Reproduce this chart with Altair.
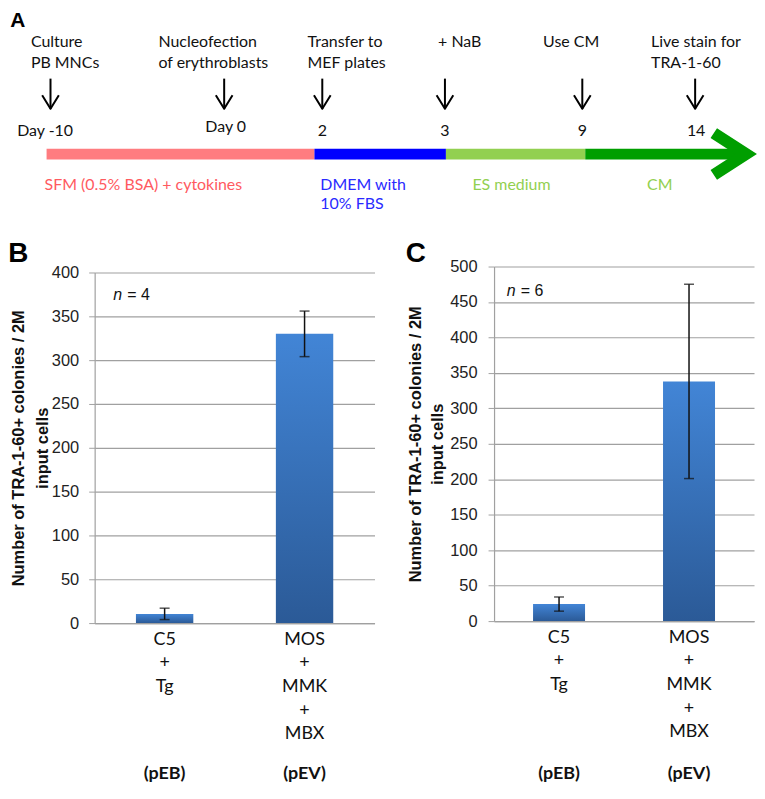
import altair as alt
import pandas as pd

# ---------------- Panel A: protocol timeline ----------------
step_labels = ["Culture\nPB MNCs", "Nucleofection\nof erythroblasts", "Transfer to\nMEF plates",
               "+ NaB", "Use CM", "Live stain for\nTRA-1-60"]
day_labels = ["Day -10", "Day 0", "2", "3", "9", "14"]
phase_labels = ["SFM (0.5% BSA) + cytokines", "DMEM with\n10% FBS", "ES medium", "CM"]
phase_bar_colors = ["#ff7c80", "#0000ff", "#92d050", "#009e00"]
phase_text_colors = ["#ff5a5f", "#2a2aff", "#92d050", "#92d050"]

# layout of the diagram (reference pixel frame)
step_text_left = [23, 153, 305, 438, 545, 655]
arrow_pos = [43, 220, 320, 445, 585, 700]
day_label_pos = [37.5, 221.5, 320, 445, 585, 701]
day_label_base = [134, 130, 134, 134, 134, 134]
phase_start = [39, 312, 446, 588]
phase_end = [312, 446, 588, 752]
phase_text_left = [37, 318, 473, 651]
arrowhead_x = [722.3, 763, 722.3, 715.7, 741, 715.7]
arrowhead_y = [126, 152.5, 179, 169, 152.5, 136]

# ---------------- Panels B and C: colony counts ----------------
groups = ["C5 + Tg", "MOS + MMK + MBX"]
vectors = ["(pEB)", "(pEV)"]
b_mean = [10.5, 330]
b_err = [6.5, 26]
c_mean = [24, 338]
c_err = [10, 137]

AW, AH = 662, 211
ax_scale = alt.Scale(domain=[88, 760], nice=False, zero=False)
ay_scale = alt.Scale(domain=[4, 220], nice=False, zero=False, reverse=True)


def ax(f):
    return alt.X(f, scale=ax_scale, axis=None)


def ay(f):
    return alt.Y(f, scale=ay_scale, axis=None)


a_letter = alt.Chart(pd.DataFrame({"t": ["A"], "x": [2], "y": [22]})).mark_text(
    align="left", baseline="alphabetic", font="Liberation Sans", fontWeight="bold", fontSize=21, color="#000"
).encode(x=ax("x:Q"), y=ay("y:Q"), text="t:N")

steps_df = pd.DataFrame({"t": step_labels, "x": step_text_left, "y": [42] * len(step_labels)})
steps = alt.Chart(steps_df).mark_text(
    align="left", baseline="alphabetic", font="Lato", fontSize=16, lineBreak="\n", lineHeight=21.5, color="#111"
).encode(x=ax("x:Q"), y=ay("y:Q"), text="t:N")

shaft_df = pd.DataFrame({"x": arrow_pos, "y": [75] * 6, "y2": [106] * 6})
shafts = alt.Chart(shaft_df).mark_rule(color="#000", strokeWidth=2).encode(
    x=ax("x:Q"), y=ay("y:Q"), y2="y2:Q")

head_rows = []
for i, p in enumerate(arrow_pos):
    head_rows += [{"a": i, "o": 0, "x": p - 8.5, "y": 92},
                  {"a": i, "o": 1, "x": p, "y": 106},
                  {"a": i, "o": 2, "x": p + 8.5, "y": 92}]
heads = alt.Chart(pd.DataFrame(head_rows)).mark_line(
    color="#000", strokeWidth=2, strokeJoin="round").encode(
    x=ax("x:Q"), y=ay("y:Q"), detail="a:N", order="o:Q")

days_df = pd.DataFrame({"t": day_labels, "x": day_label_pos, "y": day_label_base})
days = alt.Chart(days_df).mark_text(
    align="center", baseline="alphabetic", font="Lato", fontSize=16, color="#111"
).encode(x=ax("x:Q"), y=ay("y:Q"), text="t:N")

phase_df = pd.DataFrame({"x": phase_start, "x2": phase_end, "y": [147] * 4, "y2": [158] * 4,
                         "c": phase_bar_colors})
phase_bars = alt.Chart(phase_df).mark_rect().encode(
    x=ax("x:Q"), x2="x2:Q", y=ay("y:Q"), y2="y2:Q", color=alt.Color("c:N", scale=None))

chev_df = pd.DataFrame({"o": list(range(6)), "x": arrowhead_x, "y": arrowhead_y})
chevron = alt.Chart(chev_df).mark_line(filled=True, color="#009e00", strokeWidth=0).encode(
    x=ax("x:Q"), y=ay("y:Q"), order="o:Q")

ptext_df = pd.DataFrame({"t": phase_labels, "x": phase_text_left, "y": [189] * 4, "c": phase_text_colors})
phase_text = alt.Chart(ptext_df).mark_text(
    align="left", baseline="alphabetic", font="Lato", fontSize=16, lineBreak="\n", lineHeight=19.5
).encode(x=ax("x:Q"), y=ay("y:Q"), text="t:N", color=alt.Color("c:N", scale=None))

panel_a = alt.layer(phase_bars, chevron, shafts, heads, a_letter, steps, days, phase_text).properties(
    width=AW, height=AH)

bar_gradient = alt.Gradient(
    gradient="linear",
    stops=[alt.GradientStop(color="#4285d6", offset=0), alt.GradientStop(color="#2b5a97", offset=1)],
    x1=0, x2=0, y1=0, y2=1)


def bar_panel(mean, err, ymax, width, height, top_gap, pad_inner, n_label, n_xy, letter, letter_dx,
              title_x, title_lh, label_pad):
    df = pd.DataFrame({"group": groups, "vector": vectors, "mean": mean,
                       "lo": [m - e for m, e in zip(mean, err)],
                       "hi": [m + e for m, e in zip(mean, err)]})
    yscale = alt.Scale(domain=[0, ymax], range=[height, top_gap], nice=False, zero=True)
    yaxis = alt.Axis(values=list(range(0, ymax + 1, 50)), grid=True, gridColor="#a0a0a0", gridWidth=1.2,
                     domainColor="#a0a0a0", domainWidth=1.2, tickColor="#a0a0a0", tickSize=6,
                     labelPadding=label_pad, labelFont="Liberation Sans", labelFontSize=16.5,
                     labelColor="#222", labelOverlap=False,
                     title=["Number of TRA-1-60+  colonies / 2M", "input cells"],
                     titleFont="Liberation Sans", titleFontWeight="bold", titleFontSize=16.5,
                     titleColor="#111", titleX=title_x, titleBaseline="middle", titleLineHeight=title_lh)
    xaxis = alt.Axis(title=None, labelAngle=0, ticks=False, domainColor="#a0a0a0", domainWidth=1.2,
                     labelExpr="split(datum.label, ' ')", labelFont="Lato", labelFontSize=18,
                     labelLineHeight=23.8, labelPadding=7, labelColor="#111", labelBaseline="top")
    xenc = alt.X("group:N", sort=groups, axis=xaxis,
                 scale=alt.Scale(paddingInner=pad_inner, paddingOuter=pad_inner / 2))
    base = alt.Chart(df).encode(x=xenc)
    bars = base.mark_bar(color=bar_gradient).encode(y=alt.Y("mean:Q", scale=yscale, axis=yaxis))
    rules = base.mark_rule(color="#111", strokeWidth=1.5).encode(
        y=alt.Y("lo:Q", scale=yscale, axis=yaxis), y2="hi:Q")
    cap_lo = base.mark_tick(color="#111", thickness=1.5, size=10).encode(
        y=alt.Y("lo:Q", scale=yscale, axis=yaxis))
    cap_hi = base.mark_tick(color="#111", thickness=1.5, size=10).encode(
        y=alt.Y("hi:Q", scale=yscale, axis=yaxis))
    vec = base.mark_text(font="Lato", fontWeight="bold", fontSize=18, baseline="middle", color="#111").encode(
        text="vector:N", y=alt.value(510))
    n_it = alt.Chart(pd.DataFrame({"t": ["n"]})).mark_text(
        align="left", baseline="middle", font="Liberation Sans", fontStyle="italic", fontSize=16, color="#111"
    ).encode(x=alt.value(n_xy[0]), y=alt.value(n_xy[1]), text="t:N")
    n_rest = alt.Chart(pd.DataFrame({"t": ["= " + n_label]})).mark_text(
        align="left", baseline="middle", font="Liberation Sans", fontSize=16, color="#111"
    ).encode(x=alt.value(n_xy[0] + 14), y=alt.value(n_xy[1]), text="t:N")
    let = alt.Chart(pd.DataFrame({"t": [letter]})).mark_text(
        align="left", baseline="alphabetic", font="Liberation Sans", fontWeight="bold", fontSize=28, color="#000"
    ).encode(x=alt.value(letter_dx), y=alt.value(-5), text="t:N")
    return alt.layer(bars, rules, cap_lo, cap_hi, vec, n_it, n_rest, let).properties(width=width, height=height)


panel_b = bar_panel(b_mean, b_err, 400, 281, 358, 6, 0.59, "4", (18.7, 28.3), "B", -86.7, -76.8, 24.6, 10)
panel_c = bar_panel(c_mean, c_err, 500, 261, 356, 0, 0.6, "6", (12.8, 24.4), "C", -88.7, -78.8, 21.6, 11)

row = alt.hconcat(panel_b, panel_c, spacing=120, bounds="flush").resolve_scale(x="independent", y="independent")
chart = alt.vconcat(panel_a, row, spacing=47, bounds="flush").resolve_scale(
    x="independent", y="independent", color="independent"
).properties(padding=0, background="white").configure_view(stroke=None)

chart.save("out.html", embed_options={"renderer": "svg", "actions": False})
